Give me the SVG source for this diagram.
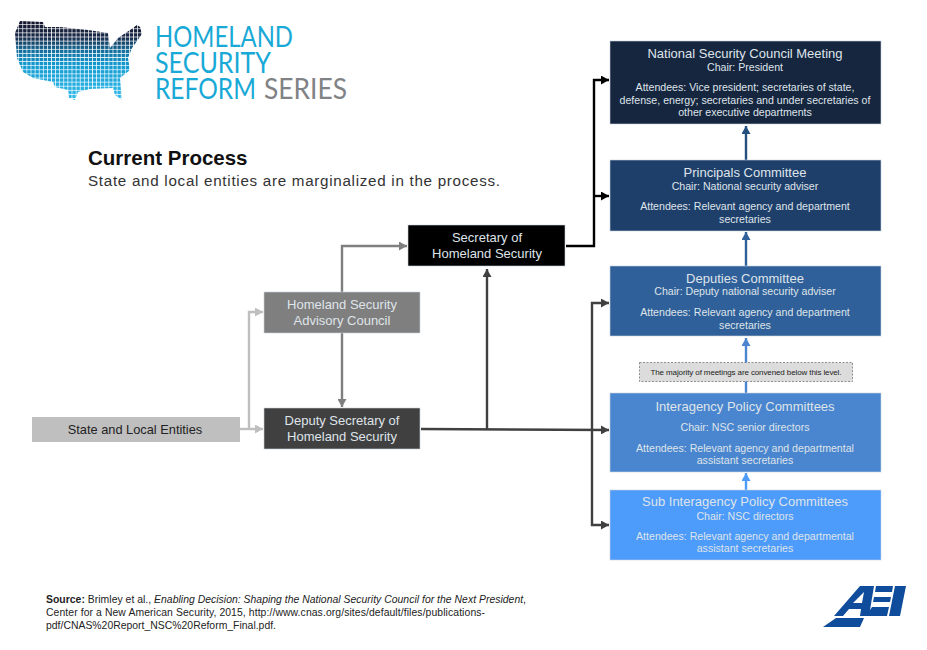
<svg xmlns="http://www.w3.org/2000/svg" width="927" height="650" viewBox="0 0 927 650">
<style>
text{font-family:"Liberation Sans",Arial,sans-serif;text-anchor:middle;fill:#dfe4ea}
.t{font-size:13px}.s{font-size:10.6px}.a{font-size:10.6px}
.c{fill:none;stroke-width:2.4}
.n rect{stroke:#c9d2de;stroke-width:.6}
.logo{font-family:Lato,"Liberation Sans",sans-serif;font-weight:400;text-anchor:start;font-size:29px;fill:#18a9d6}
.src{font-size:10.4px;text-anchor:start;fill:#222}
</style>
<defs>
<linearGradient id="mapg" x1="0" y1="21" x2="0" y2="100" gradientUnits="userSpaceOnUse">
<stop offset="0" stop-color="#14142a"/><stop offset=".2" stop-color="#1a2a48"/><stop offset=".38" stop-color="#14709e"/><stop offset=".55" stop-color="#129ad0"/><stop offset="1" stop-color="#35bcec"/>
</linearGradient>
<pattern id="dots" x="15" y="21" width="4.1" height="4.1" patternUnits="userSpaceOnUse"><rect width="3.4" height="3.4" fill="#fff"/></pattern>
<mask id="mapm" maskUnits="userSpaceOnUse" x="0" y="0" width="160" height="110">
<polygon fill="url(#dots)" points="20,21 43,22 45,27 60,27 88,30 108,33 110,48 118,38 130,30 137,25 140,27 142,34 132,48 128,58 130,70 120,78 122,100 115,95 113,88 90,89 78,92 75,100 69,98 68,90 55,87 53,82 33,78 23,72 17,58 15,33"/>
</mask>
<marker id="mk" markerUnits="userSpaceOnUse" markerWidth="9" markerHeight="9" refX="8" refY="4.5" orient="auto"><path d="M0 0L8 4.500L0 9z" fill="#000"/></marker>
<marker id="md" markerUnits="userSpaceOnUse" markerWidth="9" markerHeight="9" refX="8" refY="4.5" orient="auto"><path d="M0 0L8 4.500L0 9z" fill="#404040"/></marker>
<marker id="mg" markerUnits="userSpaceOnUse" markerWidth="9" markerHeight="9" refX="8" refY="4.5" orient="auto"><path d="M0 0L8 4.500L0 9z" fill="#7f7f7f"/></marker>
<marker id="ml" markerUnits="userSpaceOnUse" markerWidth="9" markerHeight="9" refX="8" refY="4.5" orient="auto"><path d="M0 0L8 4.500L0 9z" fill="#bfbfbf"/></marker>
<marker id="m1" markerUnits="userSpaceOnUse" markerWidth="9" markerHeight="9" refX="8" refY="4.5" orient="auto"><path d="M0 0L8 4.500L0 9z" fill="#24507f"/></marker>
<marker id="m2" markerUnits="userSpaceOnUse" markerWidth="9" markerHeight="9" refX="8" refY="4.5" orient="auto"><path d="M0 0L8 4.500L0 9z" fill="#2f6099"/></marker>
<marker id="m3" markerUnits="userSpaceOnUse" markerWidth="9" markerHeight="9" refX="8" refY="4.5" orient="auto"><path d="M0 0L8 4.500L0 9z" fill="#4a86cf"/></marker>
<marker id="m4" markerUnits="userSpaceOnUse" markerWidth="9" markerHeight="9" refX="8" refY="4.5" orient="auto"><path d="M0 0L8 4.500L0 9z" fill="#4d9bfb"/></marker>
</defs>
<rect width="927" height="650" fill="#fff"/>

<g id="logo">
<rect x="10" y="15" width="140" height="90" fill="url(#mapg)" mask="url(#mapm)"/>
<text class="logo" x="155" y="47" textLength="138" lengthAdjust="spacingAndGlyphs">HOMELAND</text>
<text class="logo" x="155" y="73" textLength="116" lengthAdjust="spacingAndGlyphs">SECURITY</text>
<text class="logo" x="155" y="99" textLength="101" lengthAdjust="spacingAndGlyphs">REFORM</text>
<text class="logo" x="264" y="99" textLength="83" lengthAdjust="spacingAndGlyphs" style="fill:#808285">SERIES</text>
</g>

<g id="heading">
<text x="88" y="165" style="text-anchor:start;fill:#111;font-size:20.5px;font-weight:700">Current Process</text>
<text x="88" y="186" style="text-anchor:start;fill:#333;font-size:15.2px" textLength="412">State and local entities are marginalized in the process.</text>
</g>

<g id="connectors">
<path class="c" stroke="#bfbfbf" d="M240 429H263" marker-end="url(#ml)"/>
<path class="c" stroke="#bfbfbf" d="M249 429V312H263" marker-end="url(#ml)"/>
<path class="c" stroke="#7f7f7f" d="M342 292V246H407" marker-end="url(#mg)"/>
<path class="c" stroke="#7f7f7f" d="M342 333V407" marker-end="url(#mg)"/>
<path class="c" stroke="#404040" d="M421 429L609 430" marker-end="url(#md)"/>
<path class="c" stroke="#404040" d="M487 429V269" marker-end="url(#md)"/>
<path class="c" stroke="#404040" d="M592 430V303H609" marker-end="url(#md)"/>
<path class="c" stroke="#404040" d="M592 430V525H609" marker-end="url(#md)"/>
<path class="c" stroke="#000" stroke-width="2.6" d="M566 246H594V80H609" marker-end="url(#mk)"/>
<path class="c" stroke="#000" stroke-width="2.6" d="M594 196H609" marker-end="url(#mk)"/>
<path class="c" stroke="#24507f" d="M746 160V126" marker-end="url(#m1)"/>
<path class="c" stroke="#2f6099" d="M746 266V232" marker-end="url(#m2)"/>
<path class="c" stroke="#4a86cf" d="M746 393V338" marker-end="url(#m3)"/>
<path class="c" stroke="#4d9bfb" d="M746 490V473" marker-end="url(#m4)"/>
</g>

<g id="state-local" class="n"><rect x="32" y="417" width="208" height="25" fill="#bfbfbf" style="stroke:none"/><text class="t" x="135" y="434" style="fill:#222;font-size:12.8px">State and Local Entities</text></g>
<g id="advisory" class="n"><rect x="264" y="292" width="156" height="41" fill="#7f7f7f"/><text class="t" x="342" y="309">Homeland Security</text><text class="t" x="342" y="325">Advisory Council</text></g>
<g id="deputy-sec" class="n"><rect x="264" y="408" width="156" height="41" fill="#404040"/><text class="t" x="342" y="425">Deputy Secretary of</text><text class="t" x="342" y="441">Homeland Security</text></g>
<g id="secretary" class="n"><rect x="408" y="225" width="157" height="41" fill="#000"/><text class="t" x="487" y="242">Secretary of</text><text class="t" x="487" y="258">Homeland Security</text></g>

<g id="nsc" class="n"><rect x="610" y="41" width="271" height="83" fill="#16263f"/>
<text class="t" x="745" y="58">National Security Council Meeting</text><text class="s" x="745" y="71">Chair: President</text>
<text class="a" x="745" y="91">Attendees: Vice president; secretaries of state,</text><text class="a" x="745" y="104">defense, energy; secretaries and under secretaries of</text><text class="a" x="745" y="116">other executive departments</text></g>
<g id="principals" class="n"><rect x="610" y="160" width="271" height="71" fill="#1f3f6b"/>
<text class="t" x="745" y="177">Principals Committee</text><text class="s" x="745" y="190">Chair: National security adviser</text>
<text class="a" x="745" y="210">Attendees: Relevant agency and department</text><text class="a" x="745" y="223">secretaries</text></g>
<g id="deputies" class="n"><rect x="610" y="266" width="271" height="70" fill="#2f6099"/>
<text class="t" x="745" y="283">Deputies Committee</text><text class="s" x="745" y="295">Chair: Deputy national security adviser</text>
<text class="a" x="745" y="316">Attendees: Relevant agency and department</text><text class="a" x="745" y="329">secretaries</text></g>
<g id="note"><rect x="639.500" y="362.500" width="213" height="19" fill="#dcdcdc" stroke="#777" stroke-width=".8" stroke-dasharray="2 1.500"/>
<text x="746" y="375" style="fill:#222;font-size:8px" textLength="191">The majority of meetings are convened below this level.</text></g>
<g id="interagency" class="n"><rect x="610" y="393" width="271" height="79" fill="#4a86cf"/>
<text class="t" x="745" y="411">Interagency Policy Committees</text><text class="s" x="745" y="431">Chair: NSC senior directors</text>
<text class="a" x="745" y="452">Attendees: Relevant agency and departmental</text><text class="a" x="745" y="464">assistant secretaries</text></g>
<g id="sub-interagency" class="n"><rect x="610" y="490" width="271" height="70" fill="#4d9bfb"/>
<text class="t" x="745" y="506">Sub Interagency Policy Committees</text><text class="s" x="745" y="520">Chair: NSC directors</text>
<text class="a" x="745" y="540">Attendees: Relevant agency and departmental</text><text class="a" x="745" y="552">assistant secretaries</text></g>

<g id="source">
<text class="src" x="46" y="603" textLength="480"><tspan font-weight="700">Source:</tspan> Brimley et al., <tspan font-style="italic">Enabling Decision: Shaping the National Security Council for the Next President</tspan>,</text>
<text class="src" x="46" y="616" textLength="439">Center for a New American Security, 2015, http://www.cnas.org/sites/default/files/publications-</text>
<text class="src" x="46" y="629" textLength="230">pdf/CNAS%20Report_NSC%20Reform_Final.pdf.</text>
</g>

<g id="aei" fill="#0f4c9c">
<path fill-rule="evenodd" d="M834 616L860 586H874L869 616H860L861 609H849L843 616zM853 603H862L864 592z"/>
<path d="M876 586H893L892 592H875zM874 597H891L890 602H873zM872 607H889L887 616H866z"/>
<path d="M895 586H906L900 616H889z"/>
<path d="M823 627L836 618H864L860 627z"/>
</g>
</svg>
